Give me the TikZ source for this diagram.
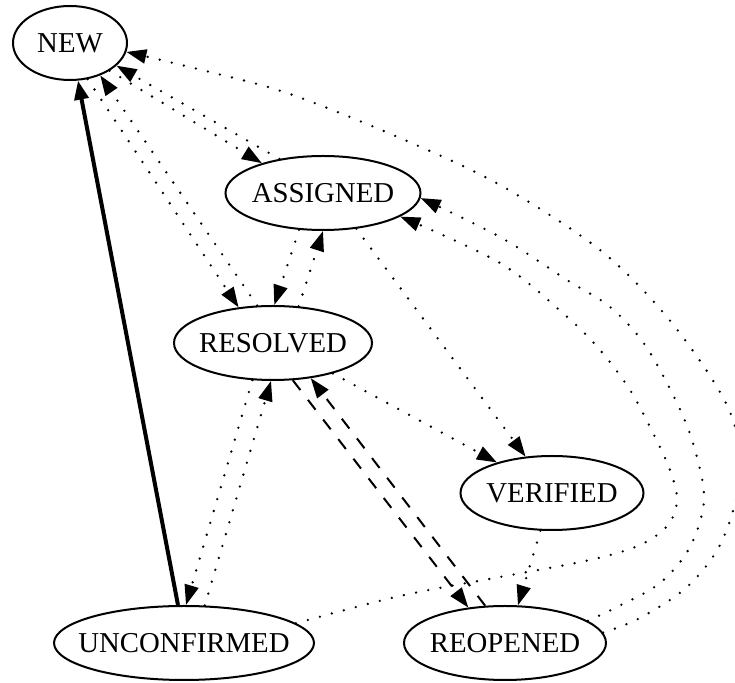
\documentclass[tikz,border=0pt]{standalone}
\usepackage{fontspec}
\setmainfont{Liberation Serif}
\usetikzlibrary{shapes.geometric,arrows.meta}
\begin{document}
\begin{tikzpicture}[x=0.5pt,y=-0.5pt,
  st/.style={ellipse,draw,line width=1pt,inner sep=0pt,minimum height=37pt,font=\fontsize{14.4}{17}\selectfont},
  dotl/.style={line width=1.3pt,dash pattern=on 0pt off 6.2pt,line cap=round,-{Triangle[length=10pt,width=7pt]}},
  dashl/.style={line width=1pt,dash pattern=on 6.2pt off 6.2pt,-{Triangle[length=10pt,width=7pt]}},
  boldl/.style={line width=2pt,-{Triangle[length=9.5pt,width=7pt]}}]
\path[use as bounding box,fill=white] (0,0) rectangle (735,683);
\node[st,minimum width=57pt] (new) at (70,43) {\makebox[0pt]{NEW}};
\node[st,minimum width=97.5pt] (asg) at (323,193) {\makebox[0pt]{ASSIGNED}};
\node[st,minimum width=99pt] (res) at (273,343) {\makebox[0pt]{RESOLVED}};
\node[st,minimum width=91.5pt] (ver) at (552,493) {\makebox[0pt]{VERIFIED}};
\node[st,minimum width=101pt] (reo) at (505,643) {\makebox[0pt]{REOPENED}};
\node[st,minimum width=130pt] (unc) at (184,643) {\makebox[0pt]{UNCONFIRMED}};
% straight edges
\draw[boldl] (unc.99) -- (new.-78);
\draw[dotl] (new.-64) -- (res.134);
\draw[dotl] (res.113) -- (new.-47.6);
\draw[dotl] (new.-35) -- (asg.154.5);
\draw[dotl] (asg.142.7) -- (new.-26.6);
\draw[dotl] (asg.237.3) -- (res.88.5);
\draw[dotl] (res.55.6) -- (asg.-90);
\draw[dotl] (asg.-47.5) -- (ver.126.9);
\draw[dotl] (res.-27.7) -- (ver.151.5);
\draw[dotl] (res.-119.6) -- (unc.87);
\draw[dotl] (unc.61) -- (res.-93);
\draw[dashl] (res.-62.9) -- (reo.136.5);
\draw[dashl] (reo.118.4) -- (res.-43.5);
\draw[dotl] (ver.-107) -- (reo.71.1);
% curved edges
\draw[dotl] plot[smooth,tension=0.55] coordinates {(unc.10) (400,596) (500,577) (590,560) (640,545) (668,525) (677,500) (670,470) (653,433) (630,390) (600,350) (565,315) (500,263) (asg.-17)};
\draw[dotl] plot[smooth,tension=0.55] coordinates {(reo.15.5) (617,607) (660,583) (690,547) (704,500) (695,450) (678,405) (645,345) (610,307) (567,280) (500,237) (asg.-3.5)};
\draw[dotl] plot[smooth,tension=0.55] coordinates {(reo.6) (640,618) (687,587) (720,545) (738,490) (738,440) (720,392) (667,317) (600,250) (500,185) (400,138) (290,94) (210,72) (new.-9)};
\end{tikzpicture}
\end{document}
